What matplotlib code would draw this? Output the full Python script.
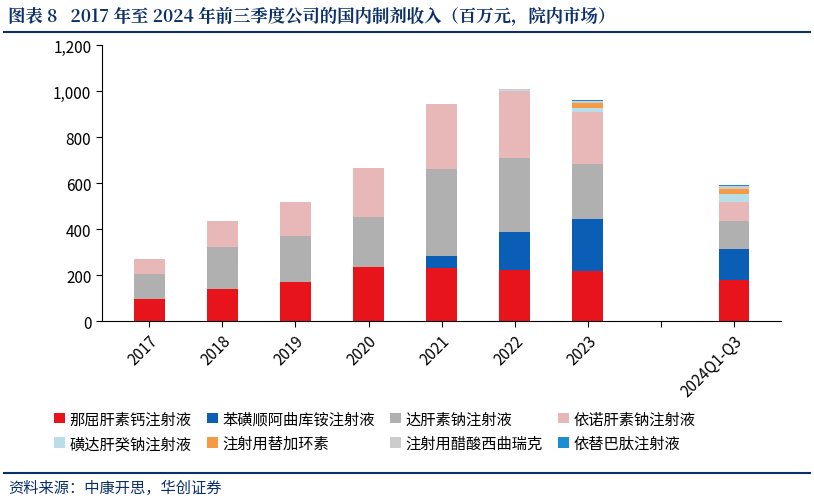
import matplotlib
matplotlib.use("Agg")
import matplotlib.pyplot as plt
import numpy as np

plt.rcParams["font.family"] = ["Noto Sans CJK SC", "DejaVu Sans"]

categories = ["2017", "2018", "2019", "2020", "2021", "2022", "2023", "", "2024Q1-Q3"]
series_names = ["那屈肝素钙注射液", "苯磺顺阿曲库铵注射液", "达肝素钠注射液", "依诺肝素钠注射液",
                "磺达肝癸钠注射液", "注射用替加环素", "注射用醋酸西曲瑞克", "依替巴肽注射液"]
s_red = [95, 140, 170, 238, 232, 225, 218, 0, 180]
s_blue = [0, 0, 0, 0, 53, 165, 225, 0, 132]
s_grey = [110, 185, 200, 215, 375, 320, 242, 0, 125]
s_pink = [67, 112, 147, 215, 285, 293, 223, 0, 82]
s_lblue = [0, 0, 0, 0, 0, 3, 18, 0, 36]
s_orange = [0, 0, 0, 0, 0, 0, 24, 0, 19]
s_lgrey = [0, 0, 0, 0, 0, 3, 7, 0, 15]
s_blue2 = [0, 0, 0, 0, 0, 0, 4, 0, 3]
series = [s_red, s_blue, s_grey, s_pink, s_lblue, s_orange, s_lgrey, s_blue2]
colors = ["#E8141C", "#0A5EB5", "#B0B0B0", "#E8B8B8", "#B9DEE8", "#F59A45", "#CCCCCC", "#1A8ED0"]

navy = "#0B2F6B"
fig = plt.figure(figsize=(8.14, 5.02), dpi=100)
ax = fig.add_axes([0.125, 0.358, 0.835, 0.55])
x = np.arange(len(categories))
bottom = np.zeros(len(categories))
for name, vals, c in zip(series_names, series, colors):
    ax.bar(x, vals, 0.42, bottom=bottom, color=c, label=name)
    bottom += np.array(vals)

ax.set_xlim(-0.65, len(categories) - 0.35)
ax.set_ylim(0, 1200)
ax.set_yticks(range(0, 1201, 200))
ax.set_yticklabels([f"{v:,}" for v in range(0, 1201, 200)], fontsize=11)
ax.set_xticks(x)
ax.set_xticklabels(categories, rotation=45, ha="right", rotation_mode="anchor", fontsize=11)
for s in ["top", "right"]:
    ax.spines[s].set_visible(False)
ax.tick_params(axis="both", direction="out", length=4)

h, l = ax.get_legend_handles_labels()
order = [0, 4, 1, 5, 2, 6, 3, 7]
fig.legend([h[i] for i in order], [l[i] for i in order], loc="lower left",
           bbox_to_anchor=(0.05, 0.07), ncol=4, frameon=False,
           fontsize=11, handlelength=0.7, handleheight=0.7, columnspacing=1.0, handletextpad=0.3)

fig.text(0.01, 0.965, "图表 8   2017 年至 2024 年前三季度公司的国内制剂收入（百万元，院内市场）",
         fontsize=12.5, fontweight="bold", color=navy, va="center", family=["Noto Serif CJK SC", "Noto Sans CJK SC"])
fig.add_artist(plt.Line2D([0.005, 0.995], [0.935, 0.935], color=navy, lw=1.5))
fig.add_artist(plt.Line2D([0.005, 0.995], [0.055, 0.055], color=navy, lw=1.5))
fig.text(0.01, 0.027, "资料来源：中康开思，华创证券", fontsize=11, style="italic", color=navy, va="center")

fig.savefig("out.png", dpi=100)
